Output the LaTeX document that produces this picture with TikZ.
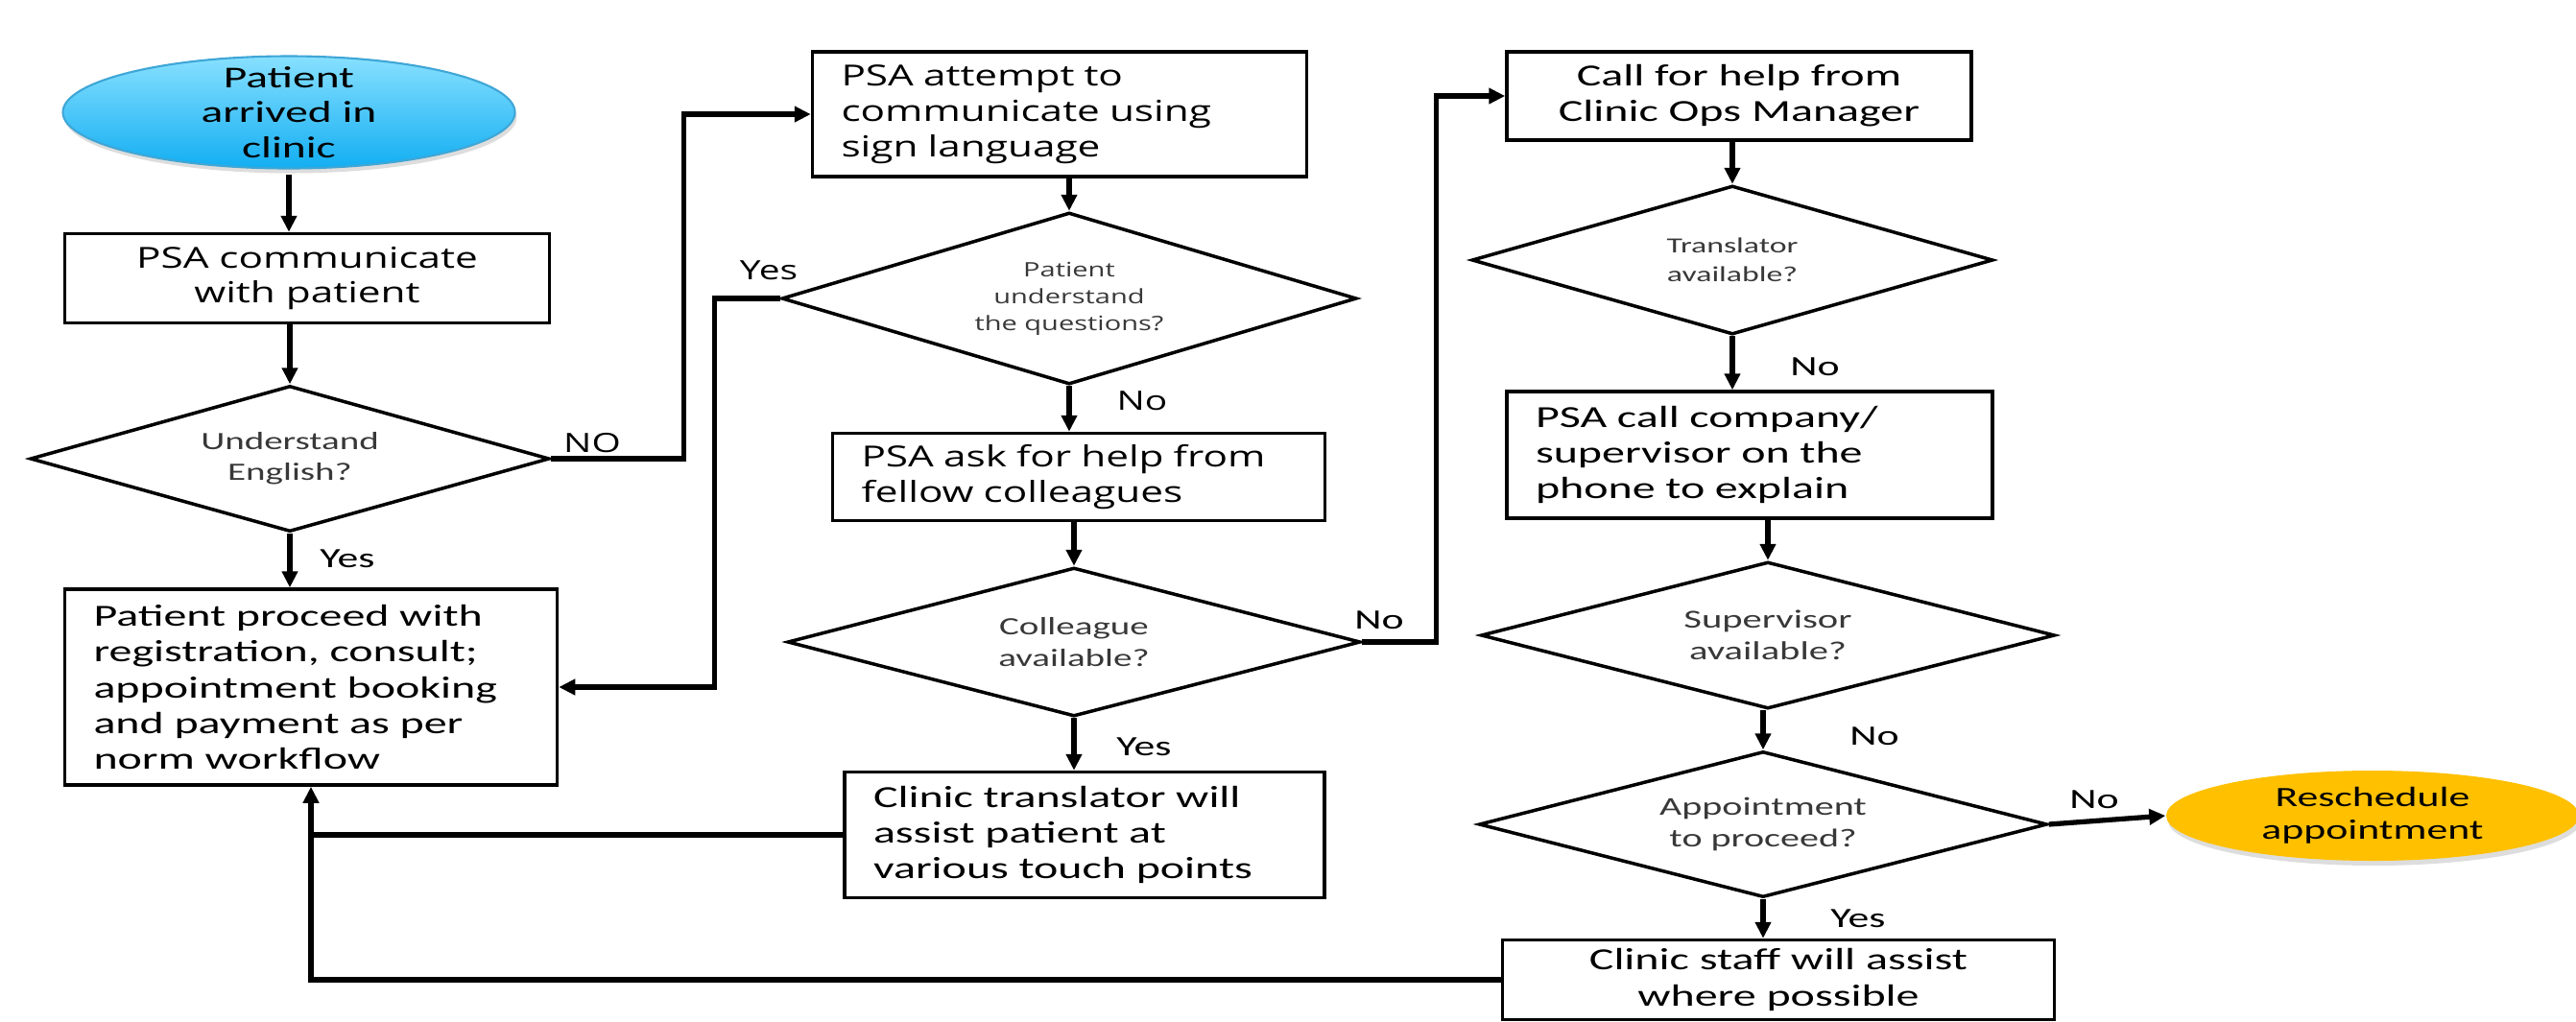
\documentclass[tikz,border=0pt]{standalone}
\usepackage{fontspec}
\setmainfont{Carlito}[FakeStretch=1.5]
\newfontfamily\segoe{Open Sans}[FakeStretch=1.4]
\usetikzlibrary{shapes.geometric,arrows.meta,shadows}
\definecolor{skytop}{HTML}{88E0FF}
\definecolor{skybot}{HTML}{12AEF2}
\definecolor{skyline}{HTML}{3FA6D6}
\definecolor{amber}{HTML}{FFC000}
\tikzset{
  box/.style={draw, line width=1pt, inner xsep=0.3cm, inner ysep=0pt, font=\fontsize{9.1}{10.6}\selectfont},
  sbox/.style={box, font=\segoe\fontsize{8.6}{10.5}\selectfont},
  dia/.style={draw, diamond, aspect=3.5, inner sep=0pt, line width=1pt, text=black!78, align=center, font=\fontsize{7.4}{9.2}\selectfont},
  txt/.style={inner sep=0pt, align=center, font=\fontsize{9}{10.4}\selectfont},
  lbl/.style={inner sep=0pt, font=\fontsize{8.3}{9}\selectfont},
  slbl/.style={inner sep=0pt, font=\segoe\fontsize{7.9}{9}\selectfont},
  soft/.style={drop shadow={shadow xshift=0.02cm, shadow yshift=-0.05cm, opacity=0.22, fill=black!60}},
  arr/.style={line width=1.5pt, -{Triangle[length=0.17cm,width=0.16cm]}},
  link/.style={line width=1.5pt}
}
\begin{document}
\begin{tikzpicture}
  \useasboundingbox (0,0) rectangle (26.84,-10.64);
  % left column
  \node[ellipse, draw=skyline, line width=0.6pt, top color=skytop, bottom color=skybot, soft, minimum width=4.71cm, minimum height=1.17cm] (start) at (3.01,-1.17) {};
  \node[txt] (starttext) at (start) {Patient\\arrived in\\clinic};
  \node[sbox, align=center, minimum width=5.05cm, minimum height=0.93cm] (comm) at (3.20,-2.90) {PSA communicate\\with patient};
  \node[dia, minimum width=5.41cm, minimum height=1.52cm] (eng) at (3.02,-4.78) {Understand\\English?};
  \node[box, align=left, text width=4.53cm, minimum height=2.04cm] (proceed) at (3.24,-7.16) {Patient proceed with\\registration, consult;\\appointment booking\\and payment as per\\norm workflow};
  % middle column
  \node[sbox, align=left, text width=4.55cm, minimum height=1.30cm] (sign) at (11.04,-1.19) {PSA attempt to\\communicate using\\sign language};
  \node[dia, font=\segoe\fontsize{5.9}{8}\selectfont, minimum width=5.99cm, minimum height=1.79cm] (understand) at (11.14,-3.11) {Patient\\understand\\the questions?};
  \node[sbox, align=left, text width=4.53cm, minimum height=0.91cm] (ask) at (11.24,-4.97) {PSA ask for help from\\fellow colleagues};
  \node[dia, minimum width=5.97cm, minimum height=1.55cm] (colleague) at (11.19,-6.69) {Colleague\\available?};
  \node[box, align=left, text width=4.40cm, minimum height=1.31cm] (translator) at (11.30,-8.70) {Clinic translator will\\assist patient at\\various touch points};
  % right column
  \node[box, align=center, minimum width=4.84cm, minimum height=0.92cm] (ops) at (18.12,-1.00) {Call for help from\\Clinic Ops Manager};
  \node[dia, font=\fontsize{6.4}{8.4}\selectfont, minimum width=5.43cm, minimum height=1.55cm] (avail) at (18.05,-2.71) {Translator\\available?};
  \node[box, align=left, text width=4.46cm, minimum height=1.32cm] (phone) at (18.23,-4.74) {PSA call company/\\supervisor on the\\phone to explain};
  \node[dia, font=\fontsize{7.7}{9.3}\selectfont, minimum width=5.98cm, minimum height=1.53cm] (super) at (18.42,-6.62) {Supervisor\\available?};
  \node[dia, font=\fontsize{7.6}{9.3}\selectfont, minimum width=5.92cm, minimum height=1.52cm] (appt) at (18.37,-8.59) {Appointment\\to proceed?};
  \node[ellipse, fill=amber, soft, minimum width=4.3cm, minimum height=0.94cm] (resched) at (24.72,-8.50) {};
  \node[txt, font=\fontsize{8.3}{9.7}\selectfont] (reschedtext) at (resched) {Reschedule\\appointment};
  \node[box, align=center, minimum width=5.75cm, minimum height=0.83cm] (staff) at (18.53,-10.21) {Clinic staff will assist\\where possible};
  % connectors
  \draw[arr] (start.south) ++(0,-0.05) -- (start.south |- comm.north);
  \draw[arr] (eng.north |- comm.south) -- (eng.north);
  \draw[arr] (eng.south) -- (eng.south |- proceed.north);
  \draw[arr] (eng.east) -- ++(1.38,0) |- (sign.west);
  \draw[arr] (understand.north |- sign.south) -- (understand.north);
  \draw[arr] (understand.west) -- ++(-0.68,0) |- (proceed.east);
  \draw[arr] (understand.south) -- (understand.south |- ask.north);
  \draw[arr] (colleague.north |- ask.south) -- (colleague.north);
  \draw[arr] (colleague.south) -- (colleague.south |- translator.north);
  \draw[arr] (colleague.east) -- ++(0.77,0) |- (ops.west);
  \draw[arr] (avail.north |- ops.south) -- (avail.north);
  \draw[arr] (avail.south) -- (avail.south |- phone.north);
  \draw[arr] (super.north |- phone.south) -- (super.north);
  \draw[arr] (appt.north |- super.south) -- (appt.north);
  \draw[arr] (appt.east) -- (resched.west);
  \draw[arr] (appt.south) -- (appt.south |- staff.north);
  \draw[arr] (staff.west) -- (proceed.south |- staff.west) -- (proceed.south);
  \draw[link] (translator.west) -- (proceed.south |- translator.west);
  % labels
  \node[slbl] (noeng) at (6.17,-4.62) {NO};
  \node[lbl] (yeseng) at (3.62,-5.82) {Yes};
  \node[slbl] (yesund) at (8.01,-2.82) {Yes};
  \node[slbl] (nound) at (11.90,-4.18) {No};
  \node[lbl] (yescol) at (11.92,-7.78) {Yes};
  \node[lbl] (nocol) at (14.37,-6.46) {No};
  \node[lbl] (noavail) at (18.91,-3.82) {No};
  \node[lbl] (nosuper) at (19.53,-7.67) {No};
  \node[lbl] (noappt) at (21.82,-8.33) {No};
  \node[lbl] (yesappt) at (19.36,-9.57) {Yes};
\end{tikzpicture}
\end{document}
